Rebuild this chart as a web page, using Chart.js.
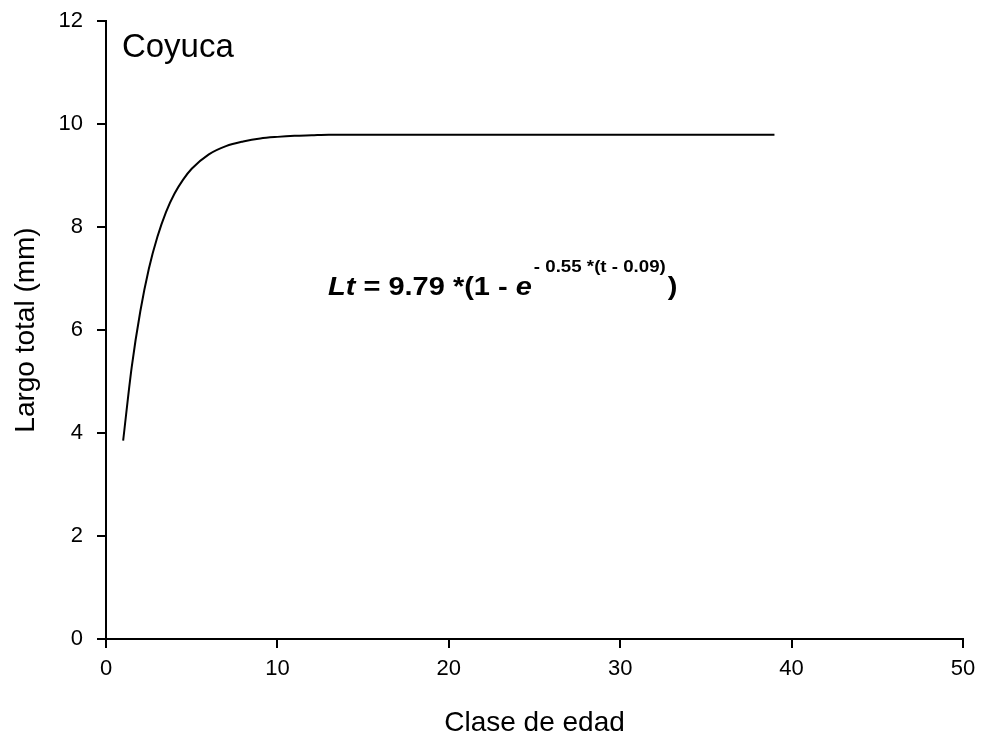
<!DOCTYPE html>
<html>
<head>
<meta charset="utf-8">
<script src="https://cdn.jsdelivr.net/npm/chart.js@4/dist/chart.umd.min.js"></script>
<style>
  html, body { margin: 0; padding: 0; background: #fff; }
  #wrap { width: 981px; height: 742px; }
</style>
</head>
<body>
<div id="wrap"><canvas id="growth"></canvas></div>
<script>
// Age class and total length along the fitted growth curve
const ages = [1, 1.5, 2, 2.5, 3, 3.5, 4, 4.5, 5, 6, 7, 8, 9, 10, 11, 12, 13, 15, 20, 25, 30, 35, 39];
const lengths = [3.85, 5.28, 6.36, 7.19, 7.81, 8.29, 8.65, 8.92, 9.13, 9.41, 9.57, 9.66, 9.72, 9.75, 9.77, 9.78, 9.79, 9.79, 9.79, 9.79, 9.79, 9.79, 9.79];

const xTicks = [0, 10, 20, 30, 40, 50];
const yTicks = [0, 2, 4, 6, 8, 10, 12];

const siteName = "Coyuca";
const FONT = "'Liberation Sans', Arial, sans-serif";

// Site name and the fitted equation, placed in data coordinates
const notes = {
  id: "notes",
  afterDraw(chart) {
    const { ctx, scales: { x, y } } = chart;
    ctx.save();
    ctx.fillStyle = "#000";
    ctx.textBaseline = "alphabetic";
    ctx.textAlign = "left";

    ctx.font = "33px " + FONT;
    ctx.fillText(siteName, x.getPixelForValue(0.93), y.getPixelForValue(11.3));

    // equation glyphs are a little wider than they are tall
    let px = x.getPixelForValue(12.95);
    const base = y.getPixelForValue(6.68);
    const parts = [
      { t: "Lt", f: "italic bold 25px ", sx: 1.16 },
      { t: " = 9.79 *(1 - ", f: "bold 25px ", sx: 1.16 },
      { t: "e", f: "italic bold 25px ", sx: 1.16, after: 2 },
      { t: "- 0.55 *(t - 0.09)", f: "bold 17px ", sx: 1.1, up: 23, after: 2 },
      { t: ")", f: "bold 25px ", sx: 1.16 },
    ];
    parts.forEach((p) => {
      ctx.font = p.f + FONT;
      ctx.save();
      ctx.translate(px, base - (p.up || 0));
      ctx.scale(p.sx, 1);
      ctx.fillText(p.t, 0, 0);
      ctx.restore();
      px += ctx.measureText(p.t).width * p.sx + (p.after || 0);
    });
    ctx.restore();
  },
};

new Chart(document.getElementById("growth"), {
  type: "line",
  data: {
    datasets: [
      {
        data: ages.map((a, i) => ({ x: a, y: lengths[i] })),
        borderColor: "#000",
        borderWidth: 2,
        pointRadius: 0,
        cubicInterpolationMode: "monotone",
        fill: false,
      },
    ],
  },
  options: {
    responsive: true,
    maintainAspectRatio: false,
    animation: false,
    layout: { padding: { top: 21, right: 18, left: 0, bottom: 0 } },
    plugins: {
      legend: { display: false },
      tooltip: { enabled: false },
    },
    scales: {
      x: {
        type: "linear",
        min: 0,
        max: 50,
        afterBuildTicks: (s) => { s.ticks = xTicks.map((v) => ({ value: v })); },
        afterFit: (s) => {
          s.height = 103;
          s.paddingLeft = 0;
          s.paddingRight = 0;
        },
        grid: { drawOnChartArea: false, drawTicks: true, tickLength: 9, color: "#000", lineWidth: 2 },
        border: { display: true, color: "#000", width: 2 },
        ticks: { color: "#000", font: { family: FONT, size: 22 }, padding: 8, maxRotation: 0 },
        title: {
          display: true,
          text: "Clase de edad",
          color: "#000",
          font: { family: FONT, size: 28 },
          padding: { top: 0, bottom: 2 },
        },
      },
      y: {
        min: 0,
        max: 12,
        afterBuildTicks: (s) => { s.ticks = yTicks.map((v) => ({ value: v })); },
        afterFit: (s) => {
          s.width = 106;
          s.paddingTop = 0;
          s.paddingBottom = 0;
        },
        grid: { drawOnChartArea: false, drawTicks: true, tickLength: 9, color: "#000", lineWidth: 2 },
        border: { display: true, color: "#000", width: 2 },
        ticks: { color: "#000", font: { family: FONT, size: 22 }, padding: 14 },
        title: {
          display: true,
          text: "Largo total (mm)",
          color: "#000",
          font: { family: FONT, size: 28 },
          padding: { top: 9, bottom: 0 },
        },
      },
    },
  },
  plugins: [notes],
});
</script>
</body>
</html>
